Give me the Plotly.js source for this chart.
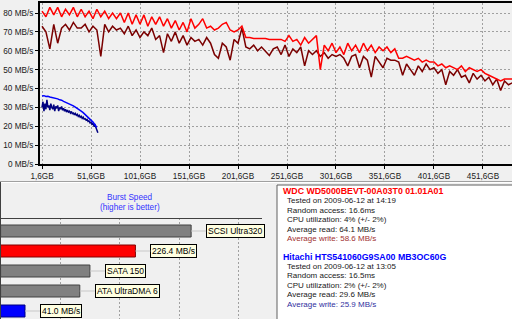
<!DOCTYPE html>
<html><head><meta charset="utf-8">
<script src="https://cdn.plot.ly/plotly-3.0.1.min.js"></script>
<style>html,body{margin:0;padding:0;background:#f0f0f0;overflow:hidden}#c{width:512px;height:319px}</style>
</head><body><div id="c"></div>
<script>
// ---- transfer-rate data (MB/s) ----
const wdcStartGB = 1.6, wdcStepGB = 4;
const wdcRead = [
 81,78,83,79,83,78,82,79,83,78,
 82,78,81,77,82,78,81,77,80,77,
 80,75,80,74,79,74,79,73,78,74,
 78,73,77,72,76,71,75,70,77,72,
 74,77,72,73,71,72,74,75,71,70,
 71,73,67,67,66.5,66.5,66.5,66.5,66,66,
 66,66,65,68,65,66,63,67,64,66,
 68,50,63,60,64,59,62,58,64,60,
 63,59,64,60,63,59,62,60,62,59,
 61,56,56,57,56,55,56,54,55,54,
 54,52,53,51,52,51,50,52,49,51,
 50,49,50,48,47,46,45,44,45,45,
 45];
const wdcWrite = [
 73,70,61,74,64,72,74,71,75,72,
 72,74,70,73,71,57,74,70,73,71,
 72,69,73,68,71,67,70,68,72,66,
 68,59,69,65,70,64,68,63,67,65,
 66,63,67,64,58,56,64,62,55,66,
 64,72,62,61,63,60,62,60,57.5,61,
 62,58,63,57,61,59,62,52,60,58,
 60,57,59,56,58,57,58,56,52,57,
 58,51,57,55,46,57,54,51,56,55,
 55,54,47,53,50,47,52,49,53,50,
 51,48,50,42,49,47,50,46,47,43,
 48,45,47,44,46,42,45,39,44,42,
 43];
const hitStartGB = 1.6, hitReadStepGB = 2, hitWriteStepGB = 1;
const hitRead = [36,36.2,35.8,35.9,35.5,35.3,35,34.8,34.5,34,33.8,33.2,32.8,32.2,31.9,31.3,30.8,30.1,29.5,28.7,28,27.2,26.3,25.4,24.5,23.2,22.2,20.8,19.4];
const hitWrite = [30,33,28,32,29,34,30,31,28.5,32,
 30,29,31.5,28,30.5,29.5,31,28,30,29,
 30.5,28.5,29.5,28,29,27.5,28.5,27.5,28,27,
 27.8,26.5,27.2,26,26.8,25.8,26.3,25.2,25.8,24.8,
 25.3,24.2,24.8,23.8,24,23.2,23.6,22.5,22.8,21.8,
 22.2,21,21.4,20.3,20.8,19.2,18.5,16.5];
const xTickVals = [1.6,51.6,101.6,151.6,201.6,251.6,301.6,351.6,401.6,451.6];
const xTickText = ['1,6GB','51,6GB','101,6GB','151,6GB','201,6GB','251,6GB','301,6GB','351,6GB','401,6GB','451,6GB'];
const yTickVals = [0,10,20,30,40,50,60,70,80];
const yTickText = ['0 MB/s','10 MB/s','20 MB/s','30 MB/s','40 MB/s','50 MB/s','60 MB/s','70 MB/s','80 MB/s'];

// ---- burst speed ----
const burstCats = ['SCSI Ultra320','WDC','SATA 150','ATA UltraDMA 6','Hitachi'];
const burstVals = [320, 226.4, 150, 133, 41.0];
const burstLabels = ['SCSI Ultra320','226.4 MB/s','SATA 150','ATA UltraDMA 6','41.0 MB/s'];
const burstFill = ['#808080','#ff0000','#808080','#808080','#0000ff'];
const burstEdge = ['#404040','#800000','#404040','#404040','#000080'];
const burstGrid = [100,200,300,400];

// ---- info panel ----
const infoText = [
 'WDC WD5000BEVT-00A03T0 01.01A01','Tested on 2009-06-12 at 14:19','Random access: 16.6ms','CPU utilization: 4% (+/- 2%)','Average read: 64.1 MB/s','Average write: 58.6 MB/s',
 'Hitachi HTS541060G9SA00 MB3OC60G','Tested on 2009-06-12 at 13:05','Random access: 16.5ms','CPU utilization: 2% (+/- 2%)','Average read: 29.6 MB/s','Average write: 25.9 MB/s'];
const infoColor = ['#ff0000','#202020','#202020','#202020','#202020','#a03030','#0000ff','#202020','#202020','#202020','#202020','#3030a0'];
const infoBold = [true,false,false,false,false,false,true,false,false,false,false,false];
const infoY = [191,200.5,210,219.5,229,238.5,256.5,266,275.5,285,294.5,304];

const FONT = 'Liberation Sans, Arial, sans-serif';
const FS = 8.2;
const W = 512, H = 319;
const py = v => (H - v) / H;
const px = v => v / W;

const xs = (start, step, n) => Array.from({length:n}, (_, i) => start + i*step);

const traces = [
 {x: xs(wdcStartGB, wdcStepGB, wdcWrite.length), y: wdcWrite, type:'scatter', mode:'lines', line:{color:'#7a0000', width:1.5}, xaxis:'x', yaxis:'y'},
 {x: xs(wdcStartGB, wdcStepGB, wdcRead.length), y: wdcRead, type:'scatter', mode:'lines', line:{color:'#ff0000', width:1.5}, xaxis:'x', yaxis:'y'},
 {x: xs(hitStartGB, hitWriteStepGB, hitWrite.length), y: hitWrite, type:'scatter', mode:'lines', line:{color:'#000080', width:1.5}, xaxis:'x', yaxis:'y'},
 {x: xs(hitStartGB, hitReadStepGB, hitRead.length), y: hitRead, type:'scatter', mode:'lines', line:{color:'#0000ff', width:1.5}, xaxis:'x', yaxis:'y'},
 {x: burstVals, y: burstCats, type:'bar', orientation:'h', width:0.6, marker:{color:burstFill, line:{color:burstEdge, width:1}}, xaxis:'x2', yaxis:'y2'}
];

const annotations = [];
burstCats.forEach((c, i) => {
 annotations.push({x: burstVals[i], y: c, xref:'x2', yref:'y2', text: burstLabels[i], showarrow:true, arrowhead:0, arrowwidth:1, arrowcolor:'#c8c8c8', ax:15, ay:0, standoff:0, xanchor:'left', yanchor:'middle', bgcolor:'#ffffe1', bordercolor:'#000000', borderwidth:1, borderpad:1, font:{family:FONT, size:FS+0.3, color:'#000'}});
});
annotations.push({x: px(130), y: py(197.5), xref:'paper', yref:'paper', text:'Burst Speed', showarrow:false, xanchor:'center', yanchor:'middle', font:{family:FONT, size:FS, color:'#3333ff'}});
annotations.push({x: px(130), y: py(207.5), xref:'paper', yref:'paper', text:'(higher is better)', showarrow:false, xanchor:'center', yanchor:'middle', font:{family:FONT, size:FS, color:'#3333ff'}});
infoText.forEach((t, i) => {
 annotations.push({x: px(infoBold[i] ? 280.5 : 285), y: py(infoY[i]), xref:'paper', yref:'paper', text: infoBold[i] ? '<b>'+t+'</b>' : t, showarrow:false, xanchor:'left', yanchor:'middle', font:{family:FONT, size: infoBold[i] ? 8.8 : 8, color: infoColor[i]}});
});

const shapes = [
 {type:'line', xref:'paper', yref:'paper', x0:0, x1:1, y0:py(181.5), y1:py(181.5), line:{color:'#a0a0a0', width:1}},
 {type:'line', xref:'paper', yref:'paper', x0:0, x1:1, y0:py(182.5), y1:py(182.5), line:{color:'#ffffff', width:1}},
 {type:'line', xref:'paper', yref:'paper', x0:px(0.5), x1:px(0.5), y0:py(182), y1:0, line:{color:'#404040', width:1}},
 {type:'line', xref:'paper', yref:'paper', x0:0, x1:px(262), y0:py(218.5), y1:py(218.5), line:{color:'#404040', width:1}},
 {type:'rect', xref:'paper', yref:'paper', x0:px(277), x1:1.01, y0:-0.01, y1:py(185), fillcolor:'#ffffff', line:{width:0}, layer:'below'},
 {type:'line', xref:'paper', yref:'paper', x0:px(277), x1:1, y0:py(185), y1:py(185), line:{color:'#606060', width:1}},
 {type:'line', xref:'paper', yref:'paper', x0:px(277), x1:px(277), y0:py(185), y1:0, line:{color:'#606060', width:1}}
];

const layout = {
 width: W, height: H, autosize:false,
 margin:{l:0, r:0, t:0, b:0, pad:0},
 paper_bgcolor:'#f0f0f0', plot_bgcolor:'#f0f0f0',
 showlegend:false, hovermode:false,
 font:{family:FONT, size:FS, color:'#202020'},
 xaxis:{domain:[px(40),1], range:[-0.44, 481.2], anchor:'y', tickmode:'array', tickvals:xTickVals, ticktext:xTickText,
  showgrid:true, gridcolor:'#a0a0a0', griddash:'2px,2px', gridwidth:1, zeroline:false,
  showline:true, linecolor:'#000', linewidth:2, mirror:true, ticks:'outside', ticklen:3, tickcolor:'#000',
  tickfont:{family:FONT, size:FS, color:'#202020'}},
 yaxis:{domain:[py(164), py(3)], range:[0, 85.3], anchor:'x', tickmode:'array', tickvals:yTickVals, ticktext:yTickText,
  showgrid:true, gridcolor:'#a0a0a0', griddash:'2px,2px', gridwidth:1, zeroline:false,
  showline:true, linecolor:'#000', linewidth:2, ticks:'outside', ticklen:3, tickcolor:'#000',
  tickfont:{family:FONT, size:FS, color:'#202020'}},
 xaxis2:{domain:[0, px(262)], range:[-1, 439], anchor:'y2', tickmode:'array', tickvals:burstGrid,
  showticklabels:false, ticks:'', showgrid:true, gridcolor:'#a0a0a0', griddash:'2px,2px', zeroline:false, showline:false},
 yaxis2:{domain:[0, py(218)], type:'category', categoryorder:'array', categoryarray:burstCats, range:[4.4, -0.65], anchor:'x2',
  showticklabels:false, ticks:'', showgrid:false, zeroline:false, showline:false},
 shapes: shapes,
 annotations: annotations
};

Plotly.newPlot('c', traces, layout, {staticPlot:true, displayModeBar:false});
</script></body></html>
